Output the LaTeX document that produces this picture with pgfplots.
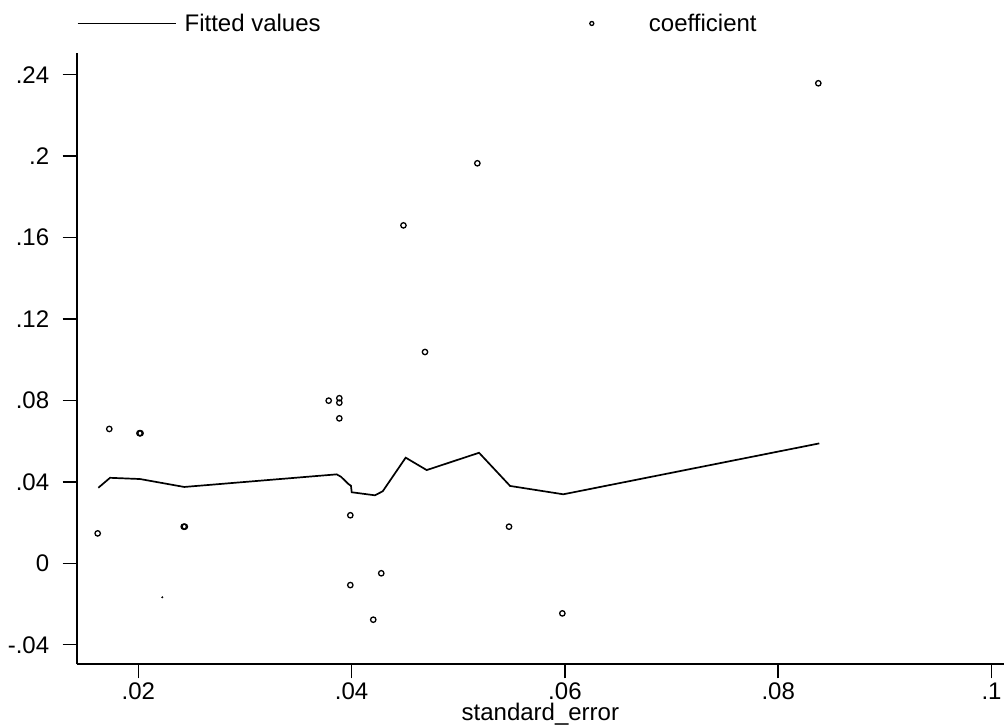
\documentclass[border=0pt]{standalone}
\usepackage{pgfplots}
\pgfplotsset{compat=1.18}
\usepackage{pgfplotstable}
\usepackage{fontspec}
\setmainfont{Liberation Sans}

% fitted line
\pgfplotstableread{
x y
0.01625 0.0371
0.01735 0.0420
0.02016 0.0414
0.02431 0.0375
0.03860 0.0437
0.03901 0.0425
0.03969 0.0390
0.03994 0.0381
0.04001 0.0349
0.04219 0.0334
0.04292 0.0354
0.04507 0.0519
0.04704 0.0458
0.05195 0.0543
0.05486 0.0380
0.05985 0.0339
0.08385 0.0589
}\fitted

% scatter points
\pgfplotstableread{
x y
0.01619 0.0147
0.01728 0.0660
0.02011 0.0639
0.02021 0.0639
0.02426 0.0180
0.02436 0.0180
0.03785 0.0799
0.03885 0.0811
0.03885 0.0789
0.03885 0.0712
0.03988 0.0236
0.03988 -0.0107
0.04203 -0.0277
0.04278 -0.0049
0.04486 0.1660
0.04688 0.1038
0.05179 0.1965
0.05476 0.0180
0.05976 -0.0246
0.08376 0.2358
}\coef

\pgfplotsset{
  lineleg/.style={legend image code/.code={\draw[##1] (0pt,0pt) -- (98pt,0pt);}},
  markleg/.style={legend image code/.code={\path (0pt,0pt) (98pt,0pt);
    \draw[##1, mark size=2pt] plot coordinates {(49pt,0pt)};}},
}

\begin{document}
\begin{tikzpicture}
\begin{axis}[
  name=ax,
  scale only axis,
  width=927.3pt, height=611pt,
  xmin=0.014224, xmax=0.10117,
  ymin=-0.04961, ymax=0.25053,
  clip=false,
  axis x line*=bottom, axis y line*=left,
  axis line style={line width=1.7pt, -},
  tick style={line width=1.5pt, black},
  tick align=outside,
  major tick length=14pt,
  xtick={0.02,0.04,0.06,0.08,0.1},
  xticklabels={.02,.04,.06,.08,.1},
  ytick={-0.04,0,0.04,0.08,0.12,0.16,0.2,0.24},
  yticklabels={-.04,0,.04,.08,.12,.16,.2,.24},
  yticklabel style={xshift=-10pt},
  xticklabel style={inner sep=0pt, yshift=-4pt},
  font=\fontsize{24}{28}\selectfont,
  xlabel={standard\_error},
  xlabel style={at={(axis description cs:0.5,0)}, anchor=base,
    inner sep=0pt, yshift=-56pt},
  legend columns=2,
  legend style={at={(0,1.0488)}, anchor=west, draw=none, fill=none,
    inner sep=0pt, nodes={inner sep=0pt}, column sep=0pt,
    /tikz/every odd column/.append style={column sep=8pt}},
]
\addplot[black, line width=1.7pt, lineleg] table {\fitted};
\addlegendentry{\makebox[358pt][l]{Fitted values}}
\addplot[black, only marks, mark=o, mark size=2.7pt, mark options={line width=1.3pt}, markleg] table {\coef};
\addlegendentry{\makebox[358pt][l]{coefficient}}
\addplot[black, only marks, mark=*, mark size=0.8pt, forget plot] coordinates {(0.02225,-0.0167)};
\end{axis}
\pgfresetboundingbox
\path ([xshift=-76.7pt,yshift=-61.7pt]ax.south west) rectangle ([yshift=53.3pt]ax.north east);
\end{tikzpicture}
\end{document}
